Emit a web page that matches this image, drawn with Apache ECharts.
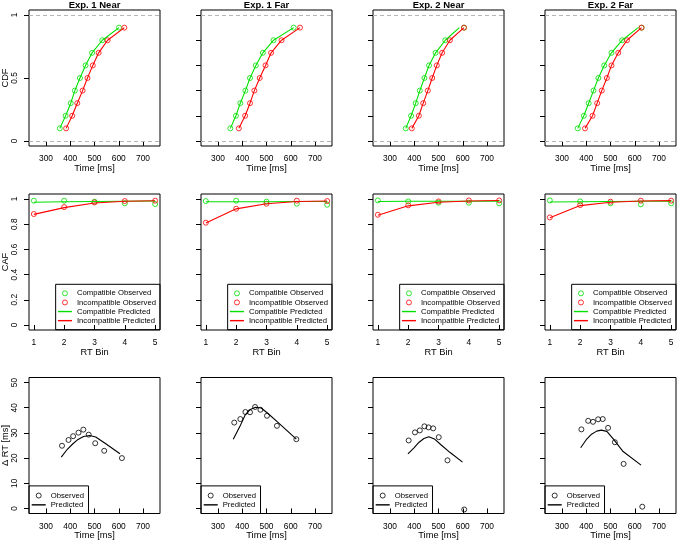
<!DOCTYPE html>
<html>
<head>
<meta charset="utf-8">
<title>DMC fits</title>
<script src="https://cdn.jsdelivr.net/npm/echarts@6/dist/echarts.min.js"></script>
<style>
    html, body { margin: 0; padding: 0; background: #fff; }
    #main { width: 677px; height: 541px; }
</style>
</head>
<body>
<div id="main"></div>
<script>
// panel titles
var titles = ['Exp. 1 Near', 'Exp. 1 Far', 'Exp. 2 Near', 'Exp. 2 Far'];

// CDF: quantile probabilities and RTs (ms), one row per panel
var probs = [0.1, 0.2, 0.3, 0.4, 0.5, 0.6, 0.7, 0.8, 0.9];
var cdfCompObs = [
    [357, 381, 402, 419, 440, 463, 490, 532, 601],
    [351, 374, 392, 413, 432, 456, 485, 529, 612],
    [365, 387, 406, 423, 442, 461, 488, 528, 605],
    [365, 390, 410, 430, 450, 474, 504, 548, 628]
];
var cdfIncompObs = [
    [383, 408, 429, 451, 471, 493, 517, 554, 623],
    [386, 412, 432, 450, 472, 496, 519, 562, 638],
    [390, 419, 437, 456, 474, 493, 515, 547, 605],
    [395, 426, 445, 464, 485, 504, 532, 568, 628]
];
var cdfCompPred = [
    [357, 381, 402, 419, 440, 463, 490, 532, 601],
    [351, 374, 392, 413, 432, 456, 485, 529, 612],
    [365, 387, 406, 423, 442, 461, 488, 528, 586],
    [365, 390, 410, 430, 450, 474, 504, 548, 614]
];
var cdfIncompPred = [
    [383, 408, 429, 451, 471, 493, 517, 554, 623],
    [386, 412, 432, 450, 472, 496, 519, 562, 638],
    [390, 419, 437, 456, 474, 493, 515, 547, 605],
    [395, 426, 445, 464, 485, 504, 532, 568, 628]
];

// CAF: accuracy per RT bin
var bins = [1, 2, 3, 4, 5];
var cafCompObs = [
    [0.987, 0.987, 0.979, 0.966, 0.960],
    [0.984, 0.987, 0.979, 0.963, 0.955],
    [0.989, 0.981, 0.971, 0.971, 0.966],
    [0.989, 0.981, 0.966, 0.958, 0.966]
];
var cafCompPred = [
    [0.974, 0.978, 0.981, 0.983, 0.984],
    [0.978, 0.979, 0.979, 0.980, 0.980],
    [0.981, 0.982, 0.982, 0.983, 0.983],
    [0.976, 0.978, 0.980, 0.982, 0.983]
];
var cafIncompObs = [
    [0.881, 0.936, 0.973, 0.984, 0.987],
    [0.812, 0.923, 0.963, 0.987, 0.984],
    [0.875, 0.950, 0.981, 0.989, 0.989],
    [0.854, 0.952, 0.979, 0.987, 0.987]
];
var cafIncompPred = [
    [0.878, 0.932, 0.968, 0.982, 0.986],
    [0.810, 0.922, 0.962, 0.980, 0.985],
    [0.872, 0.946, 0.975, 0.985, 0.988],
    [0.852, 0.948, 0.975, 0.984, 0.987]
];

// delta plots: mean RT (ms) and compatibility effect (ms)
var deltaObsX = [
    [366, 393, 412, 434, 454, 476, 503, 540, 613],
    [367, 392, 413, 432, 453, 475, 502, 543, 623],
    [377, 403, 423, 442, 459, 478, 501, 537, 606],
    [380, 408, 428, 449, 468, 490, 518, 554, 631]
];
var deltaObsY = [
    [24.9, 27.2, 28.7, 30.1, 31.3, 29.3, 25.9, 22.9, 20.0],
    [34.1, 35.5, 38.3, 38.2, 40.3, 39.2, 36.8, 32.8, 27.5],
    [27.0, 30.2, 31.0, 32.6, 32.2, 31.8, 28.3, 19.1, -0.4],
    [31.4, 34.8, 34.4, 35.4, 35.5, 32.0, 26.3, 17.7, 0.7]
];
var deltaPredX = [
    [363, 388, 410, 432, 455, 480, 505, 545, 605],
    [363, 390, 413, 433, 455, 478, 505, 545, 623],
    [374, 398, 420, 440, 460, 483, 510, 548, 599],
    [377, 400, 422, 443, 462, 485, 512, 552, 626]
];
var deltaPredY = [
    [20.4, 23.5, 25.6, 27.4, 28.6, 29.0, 28.4, 25.8, 21.7],
    [27.5, 32.5, 37.3, 39.3, 40.2, 39.9, 37.8, 34.4, 27.5],
    [21.7, 24.0, 26.3, 27.8, 28.5, 27.6, 25.3, 22.2, 18.4],
    [24.1, 27.3, 29.5, 30.7, 31.1, 30.6, 27.5, 22.6, 17.2]
];

// tick marks
var timeTicks = [300, 400, 500, 600, 700];
var cdfTicksFirst = [0, 0.5, 1];
var unitTicks = [0, 0.2, 0.4, 0.6, 0.8, 1];
var deltaTicks = [0, 10, 20, 30, 40, 50];

var font = 'Liberation Sans, Arial, Helvetica, sans-serif';
var green = '#00e000', red = '#ff0000';
var colLeft = [29, 201, 373, 545];
var rowTop = [10, 194, 377.5];
var panelW = 131, panelH = 136;
var W = 677, H = 541;

var grids = [], xAxes = [], yAxes = [], series = [], legends = [], titleList = [];

function pairs(xs, ys) {
    return xs.map(function (x, i) { return [x, ys[i]]; });
}

function addPanel(row, col, o) {
    var idx = grids.length;
    grids.push({
        left: colLeft[col], top: rowTop[row], width: panelW, height: panelH,
        show: true, borderColor: '#000', borderWidth: 1, outerBoundsMode: 'none'
    });
    xAxes.push({
        type: 'value', gridIndex: idx, min: o.xmin, max: o.xmax,
        name: o.xname, nameLocation: 'middle', nameGap: 17.5,
        nameTextStyle: { fontSize: 9.3, color: '#000', fontFamily: font },
        axisLine: { show: false }, splitLine: { show: false },
        axisTick: { show: true, length: 5, customValues: o.xticks, lineStyle: { color: '#000' } },
        axisLabel: { customValues: o.xticks, margin: 9, fontSize: 8.4, color: '#000', fontFamily: font }
    });
    yAxes.push({
        type: 'value', gridIndex: idx, min: o.ymin, max: o.ymax,
        name: col === 0 ? o.yname : '', nameLocation: 'middle', nameGap: 19,
        nameTextStyle: { fontSize: 9.3, color: '#000', fontFamily: font },
        axisLine: { show: false }, splitLine: { show: false },
        axisTick: { show: true, length: 5, customValues: o.yticks, lineStyle: { color: '#000' } },
        axisLabel: {
            show: col === 0, customValues: o.yticks, rotate: 90, margin: 10,
            fontSize: 8.4, color: '#000', fontFamily: font
        }
    });
    return idx;
}

function lineSeries(name, idx, data, color) {
    return {
        name: name, type: 'line', xAxisIndex: idx, yAxisIndex: idx, data: data,
        symbol: 'none', silent: true, lineStyle: { color: color, width: 1.1 },
        itemStyle: { color: color }
    };
}

function pointSeries(name, idx, data, color) {
    return {
        name: name, type: 'scatter', xAxisIndex: idx, yAxisIndex: idx, data: data,
        symbol: 'circle', symbolSize: 5, silent: true,
        itemStyle: { color: 'rgba(0,0,0,0)', borderColor: color, borderWidth: 1 }
    };
}

var lineIcon = 'path://M0,0H10V1H0Z';
function circleItem(name, color) {
    return { name: name, icon: 'circle', itemStyle: { color: 'rgba(0,0,0,0)', borderColor: color, borderWidth: 1 } };
}
function lineItem(name, color) {
    return { name: name, icon: lineIcon, itemStyle: { color: color, borderWidth: 0 } };
}

for (var c = 0; c < 4; c++) {
    var cx = colLeft[c] + panelW / 2;
    titleList.push({
        text: titles[c], left: cx, top: 0, textAlign: 'center', padding: 0,
        textStyle: { fontSize: 9.5, fontWeight: 'bold', color: '#000', fontFamily: font }
    });

    // row 1: CDF
    var g1 = addPanel(0, c, {
        xmin: 230, xmax: 770, xticks: timeTicks, xname: 'Time [ms]',
        ymin: -0.04, ymax: 1.04, yticks: c === 0 ? cdfTicksFirst : unitTicks, yname: 'CDF'
    });
    var s = lineSeries('CDF Compatible Predicted', g1, pairs(cdfCompPred[c], probs), green);
    s.markLine = {
        silent: true, symbol: 'none', label: { show: false },
        lineStyle: { color: '#b5b5b5', type: [4, 3], width: 1 },
        data: [{ yAxis: 0 }, { yAxis: 1 }]
    };
    series.push(s);
    series.push(pointSeries('CDF Compatible Observed', g1, pairs(cdfCompObs[c], probs), green));
    series.push(lineSeries('CDF Incompatible Predicted', g1, pairs(cdfIncompPred[c], probs), red));
    series.push(pointSeries('CDF Incompatible Observed', g1, pairs(cdfIncompObs[c], probs), red));

    // row 2: CAF
    var g2 = addPanel(1, c, {
        xmin: 0.84, xmax: 5.16, xticks: bins, xname: 'RT Bin',
        ymin: -0.04, ymax: 1.04, yticks: unitTicks, yname: 'CAF'
    });
    series.push(lineSeries('Compatible Predicted', g2, pairs(bins, cafCompPred[c]), green));
    series.push(pointSeries('Compatible Observed', g2, pairs(bins, cafCompObs[c]), green));
    series.push(lineSeries('Incompatible Predicted', g2, pairs(bins, cafIncompPred[c]), red));
    series.push(pointSeries('Incompatible Observed', g2, pairs(bins, cafIncompObs[c]), red));
    legends.push({
        orient: 'vertical', right: W - colLeft[c] - panelW, top: 284.3,
        padding: [4.5, 4, 4.5, 2.3], itemWidth: 14, itemHeight: 5, itemGap: 0,
        borderColor: '#000', borderWidth: 1, borderRadius: 0, selectedMode: false,
        textStyle: { fontSize: 7.7, lineHeight: 9.1, color: '#000', fontFamily: font },
        data: [
            circleItem('Compatible Observed', green),
            circleItem('Incompatible Observed', red),
            lineItem('Compatible Predicted', green),
            lineItem('Incompatible Predicted', red)
        ]
    });

    // row 3: delta plot
    var g3 = addPanel(2, c, {
        xmin: 230, xmax: 770, xticks: timeTicks, xname: 'Time [ms]',
        ymin: -2, ymax: 52, yticks: deltaTicks, yname: '\u0394 RT [ms]'
    });
    series.push(lineSeries('Predicted', g3, pairs(deltaPredX[c], deltaPredY[c]), '#000'));
    series.push(pointSeries('Observed', g3, pairs(deltaObsX[c], deltaObsY[c]), '#000'));
    legends.push({
        orient: 'vertical', left: colLeft[c], bottom: H - (rowTop[2] + panelH),
        padding: [5, 4.5, 4, 2.7], itemWidth: 14, itemHeight: 5, itemGap: 0,
        borderColor: '#000', borderWidth: 1, borderRadius: 0, selectedMode: false,
        textStyle: { fontSize: 7.7, lineHeight: 9.3, color: '#000', fontFamily: font },
        data: [circleItem('Observed', '#000'), lineItem('Predicted', '#000')]
    });
}

var myChart = echarts.init(document.getElementById('main'), null, { renderer: 'canvas' });
var option = {
    backgroundColor: '#fff',
    animation: false,
    textStyle: { fontFamily: font },
    title: titleList,
    grid: grids,
    xAxis: xAxes,
    yAxis: yAxes,
    legend: legends,
    tooltip: { show: false },
    series: series
};
myChart.setOption(option);
</script>
</body>
</html>
